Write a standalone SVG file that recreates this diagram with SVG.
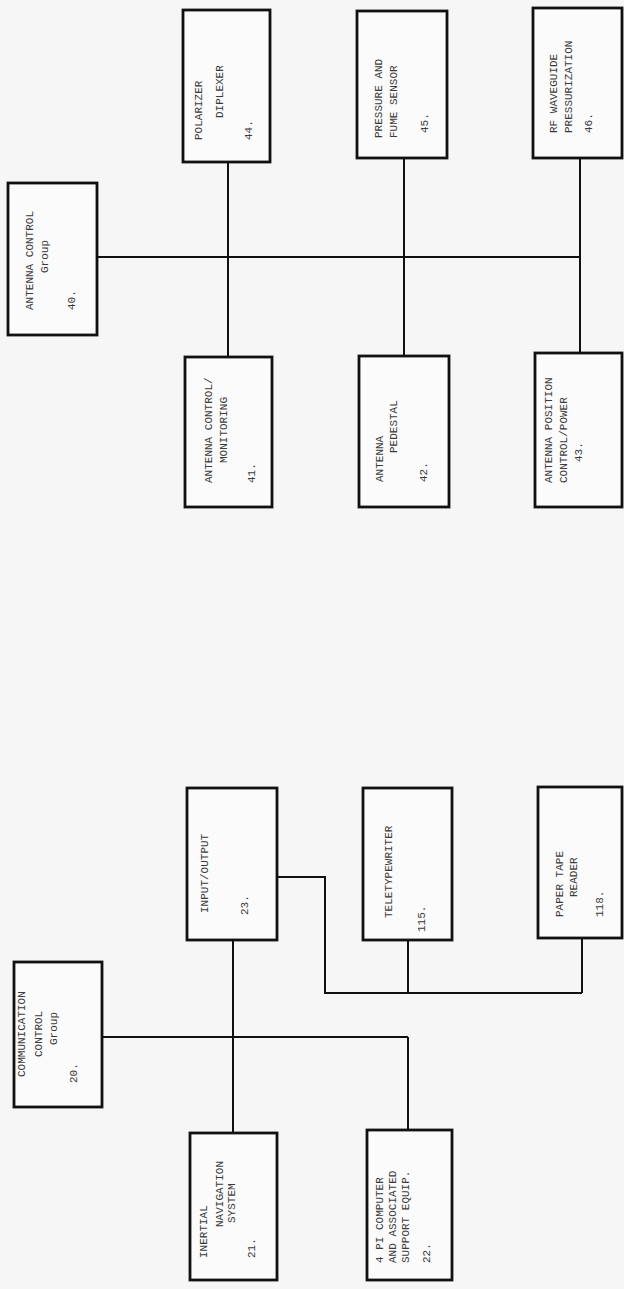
<svg xmlns="http://www.w3.org/2000/svg" width="624" height="1289" viewBox="0 0 624 1289">
<style>
.bx{fill:#fbfbfb;stroke:#111;stroke-width:2.8}
.ln{fill:none;stroke:#111;stroke-width:2}
.t{font-family:"Liberation Mono","DejaVu Sans Mono",monospace;font-size:11px;fill:#3a3a3a}
</style>
<rect width="624" height="1289" fill="#f6f6f6"/>
<g id="connectors">
<path class="ln" d="M97 257H580M228 162V357M404 158V356M580 158V353"/>
<path class="ln" d="M102 1037H408M233 940V1133M408 1037V1130"/>
<path class="ln" d="M277 877H325V993H582M408 940V993M582 938V993"/>
</g>
<g id="n40">
<rect class="bx" x="8" y="183" width="89" height="152"/>
<text class="t" transform="translate(33,310) rotate(-90)">ANTENNA CONTROL</text>
<text class="t" transform="translate(48,273) rotate(-90)">Group</text>
<text class="t" transform="translate(75,310) rotate(-90)">40.</text>
</g>
<g id="n44">
<rect class="bx" x="183" y="10" width="87" height="152"/>
<text class="t" transform="translate(202,140) rotate(-90)">POLARIZER</text>
<text class="t" transform="translate(223,118) rotate(-90)">DIPLEXER</text>
<text class="t" transform="translate(252,140) rotate(-90)">44.</text>
</g>
<g id="n45">
<rect class="bx" x="357" y="11" width="90" height="147"/>
<text class="t" transform="translate(382,138) rotate(-90)">PRESSURE AND</text>
<text class="t" transform="translate(397,138) rotate(-90)">FUME SENSOR</text>
<text class="t" transform="translate(428,133) rotate(-90)">45.</text>
</g>
<g id="n46">
<rect class="bx" x="533" y="8" width="89" height="150"/>
<text class="t" transform="translate(557,133) rotate(-90)">RF WAVEGUIDE</text>
<text class="t" transform="translate(572,133) rotate(-90)">PRESSURIZATION</text>
<text class="t" transform="translate(592,133) rotate(-90)">46.</text>
</g>
<g id="n41">
<rect class="bx" x="185" y="357" width="87" height="150"/>
<text class="t" transform="translate(212,483) rotate(-90)">ANTENNA CONTROL/</text>
<text class="t" transform="translate(227,463) rotate(-90)">MONITORING</text>
<text class="t" transform="translate(255,483) rotate(-90)">41.</text>
</g>
<g id="n42">
<rect class="bx" x="359" y="356" width="90" height="151"/>
<text class="t" transform="translate(383,482) rotate(-90)">ANTENNA</text>
<text class="t" transform="translate(397,453) rotate(-90)">PEDESTAL</text>
<text class="t" transform="translate(427,482) rotate(-90)">42.</text>
</g>
<g id="n43">
<rect class="bx" x="535" y="353" width="87" height="154"/>
<text class="t" transform="translate(552,483) rotate(-90)">ANTENNA POSITION</text>
<text class="t" transform="translate(567,483) rotate(-90)">CONTROL/POWER</text>
<text class="t" transform="translate(582,462) rotate(-90)">43.</text>
</g>
<g id="n20">
<rect class="bx" x="14" y="962" width="88" height="145"/>
<text class="t" transform="translate(25,1077) rotate(-90)">COMMUNICATION</text>
<text class="t" transform="translate(42,1057) rotate(-90)">CONTROL</text>
<text class="t" transform="translate(57,1045) rotate(-90)">Group</text>
<text class="t" transform="translate(77,1083) rotate(-90)">20.</text>
</g>
<g id="n23">
<rect class="bx" x="187" y="788" width="90" height="152"/>
<text class="t" transform="translate(208,913) rotate(-90)">INPUT/OUTPUT</text>
<text class="t" transform="translate(248,915) rotate(-90)">23.</text>
</g>
<g id="n115">
<rect class="bx" x="363" y="788" width="89" height="152"/>
<text class="t" transform="translate(392,918) rotate(-90)">TELETYPEWRITER</text>
<text class="t" transform="translate(425,932) rotate(-90)">115.</text>
</g>
<g id="n118">
<rect class="bx" x="538" y="787" width="84" height="151"/>
<text class="t" transform="translate(563,917) rotate(-90)">PAPER TAPE</text>
<text class="t" transform="translate(577,897) rotate(-90)">READER</text>
<text class="t" transform="translate(603,917) rotate(-90)">118.</text>
</g>
<g id="n21">
<rect class="bx" x="190" y="1133" width="87" height="147"/>
<text class="t" transform="translate(207,1258) rotate(-90)">INERTIAL</text>
<text class="t" transform="translate(223,1227) rotate(-90)">NAVIGATION</text>
<text class="t" transform="translate(235,1223) rotate(-90)">SYSTEM</text>
<text class="t" transform="translate(255,1258) rotate(-90)">21.</text>
</g>
<g id="n22">
<rect class="bx" x="367" y="1130" width="85" height="150"/>
<text class="t" transform="translate(383,1263) rotate(-90)">4 PI COMPUTER</text>
<text class="t" transform="translate(396,1263) rotate(-90)">AND ASSOCIATED</text>
<text class="t" transform="translate(409,1263) rotate(-90)">SUPPORT EQUIP.</text>
<text class="t" transform="translate(430,1263) rotate(-90)">22.</text>
</g>
</svg>
